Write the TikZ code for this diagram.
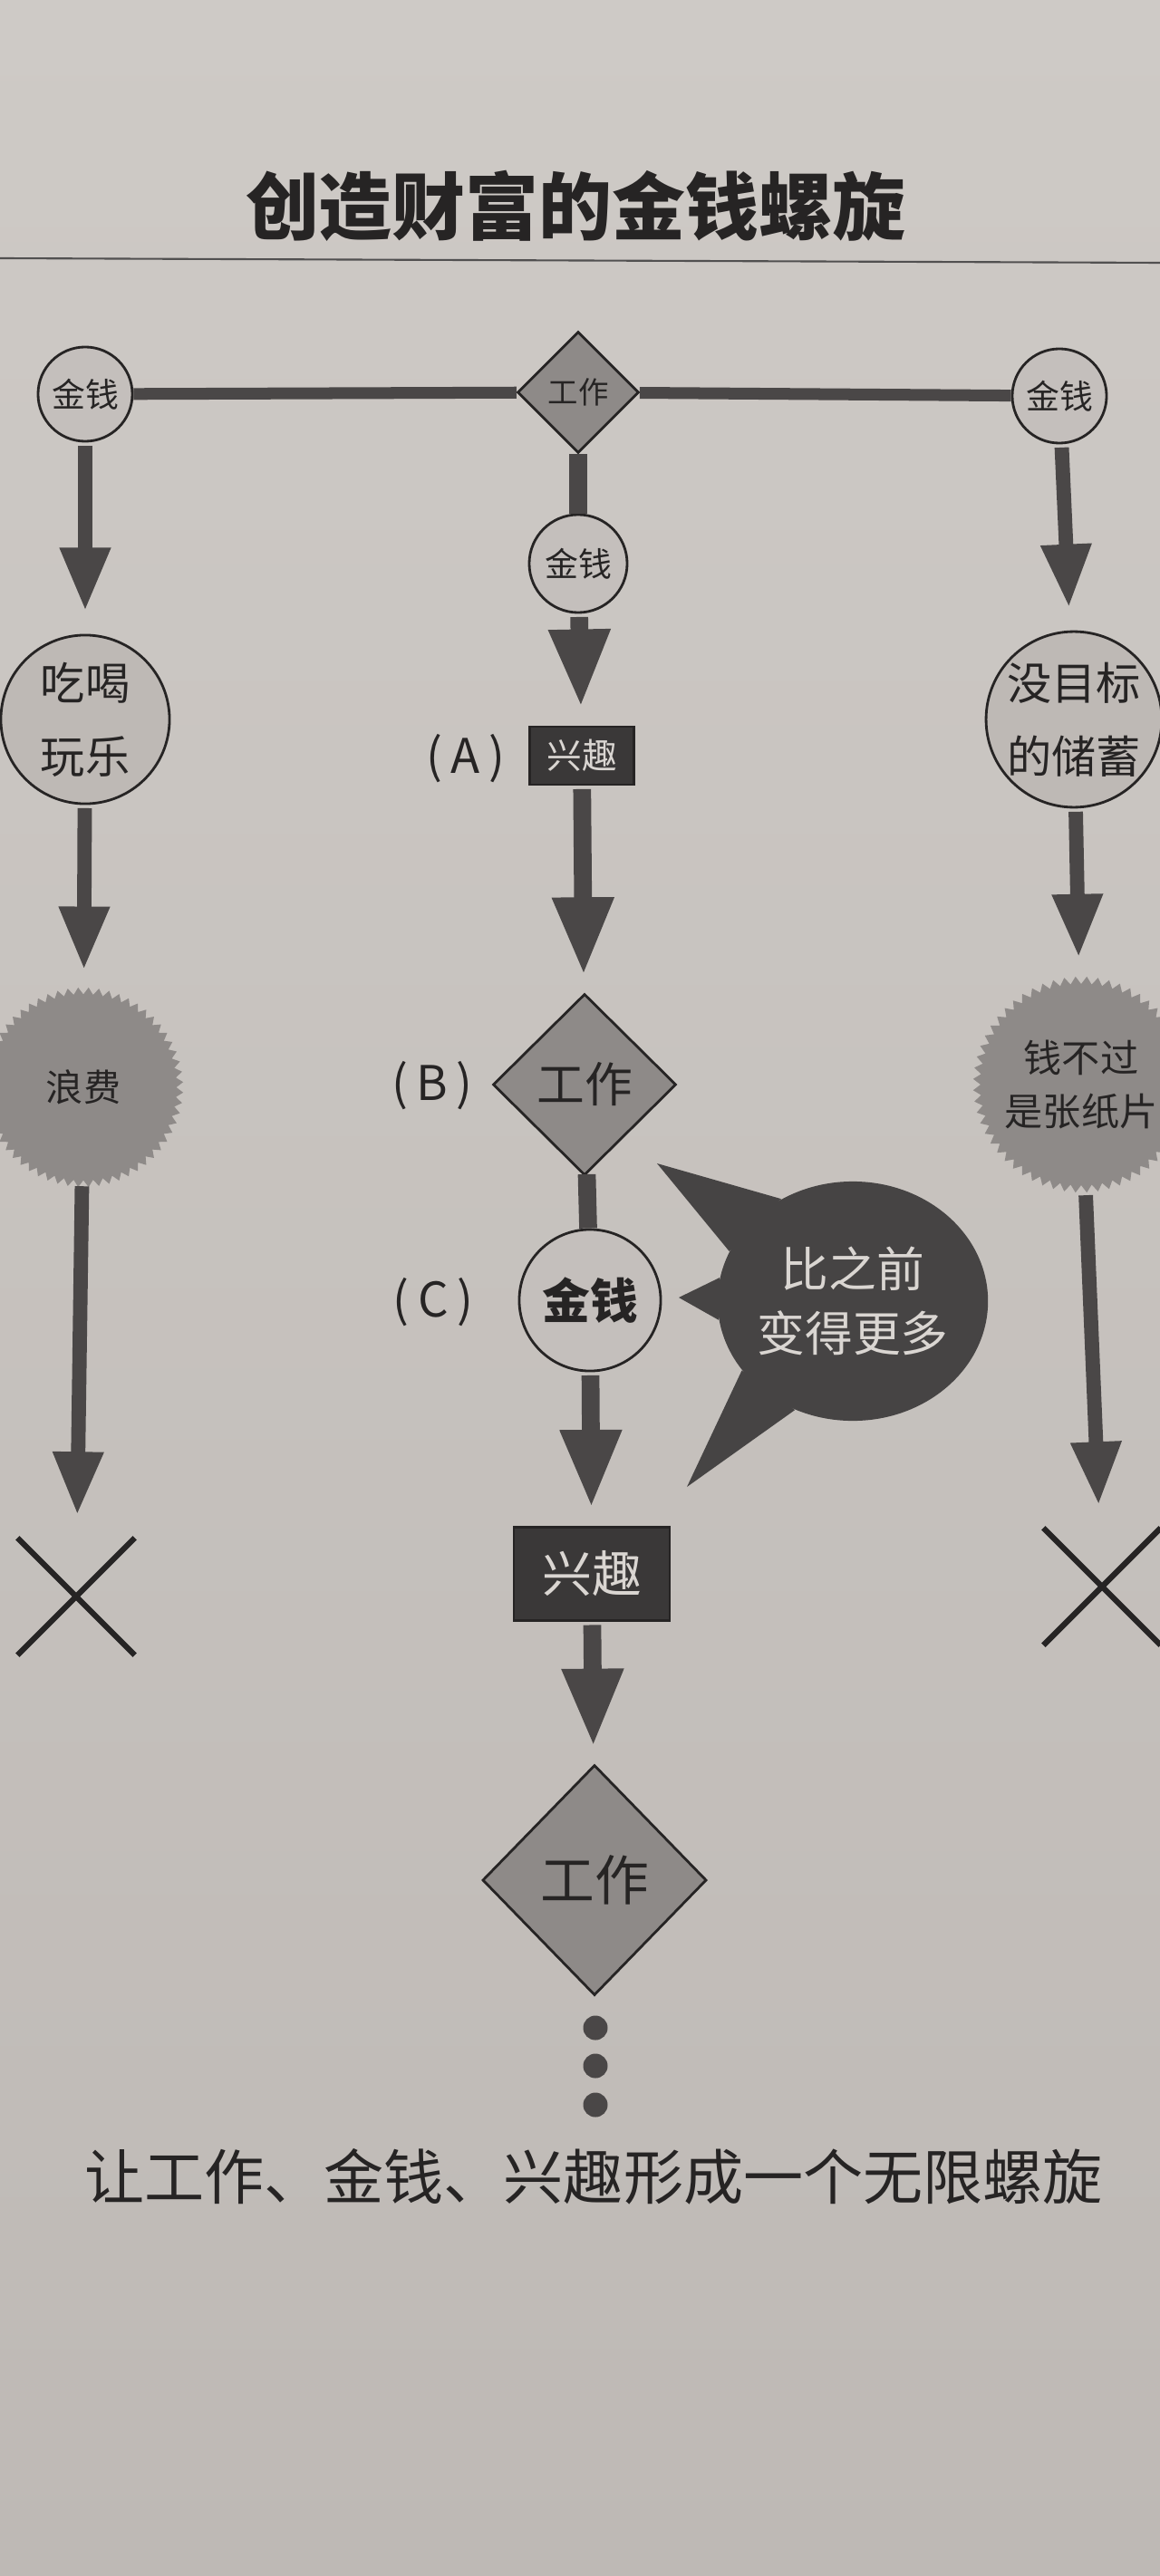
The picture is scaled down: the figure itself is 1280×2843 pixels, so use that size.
\documentclass[tikz,border=0pt]{standalone}
\usepackage{fontspec}
\setmainfont{Noto Sans CJK SC}
\usepackage{xcolor}
\usetikzlibrary{
    arrows.meta,
    positioning,
    shapes.geometric,
    shapes.misc
}

\definecolor{paperTop}{RGB}{206,202,198}
\definecolor{paperMid}{RGB}{180,174,170}
\definecolor{paperBot}{RGB}{190,185,181}
\definecolor{ink}{RGB}{38,36,36}
\definecolor{arrowgray}{RGB}{74,71,71}
\definecolor{lightfill}{RGB}{196,191,188}
\definecolor{midfill}{RGB}{142,138,136}
\definecolor{darkfill}{RGB}{58,56,56}
\definecolor{bubblegray}{RGB}{70,68,68}
\definecolor{lighttext}{RGB}{218,214,210}

\begin{document}
\begin{tikzpicture}[
    x=0.01cm, y=-0.01cm,
    font=\fontsize{12}{16}\selectfont,
    money/.style={
        circle,
        draw=ink,
        thick,
        fill=lightfill,
        minimum size=1.04cm,
        inner sep=0pt,
        text=ink,
        font=\fontsize{10.5}{12}\selectfont
    },
    spend/.style={
        circle,
        draw=ink,
        thick,
        fill=paperMid!60!paperTop,
        minimum size=1.86cm,
        inner sep=0pt,
        align=center,
        text=ink,
        font=\fontsize{14}{23}\selectfont
    },
    work/.style={
        diamond,
        draw=ink,
        thick,
        fill=midfill,
        inner sep=0pt,
        text=ink
    },
    interest/.style={
        rectangle,
        draw=ink,
        thick,
        fill=darkfill,
        inner sep=0pt,
        text=lighttext
    },
    burst/.style={
        star,
        star points=60,
        star point ratio=0.93,
        fill=midfill,
        minimum size=2.05cm,
        inner sep=0pt,
        align=center,
        text=ink
    },
    cross/.style={
        cross out,
        draw=ink,
        line width=1.8pt,
        minimum size=1.23cm,
        inner sep=0pt
    },
    tag/.style={
        text=ink,
        font=\fontsize{15}{17}\selectfont
    },
    dotmark/.style={
        circle,
        fill=arrowgray,
        minimum size=0.27cm,
        inner sep=0pt
    },
    arrow/.style={
        -{Triangle[length=0.86cm,width=0.63cm]},
        line width=5.6pt,
        draw=arrowgray,
        shorten <=1pt,
        shorten >=0.2cm
    },
    sidearrow/.style={
        -{Triangle[length=0.7cm,width=0.52cm]},
        line width=4.5pt,
        draw=arrowgray,
        shorten <=1pt,
        shorten >=0.25cm
    },
    link/.style={
        line width=3.7pt,
        draw=arrowgray
    }
]

% =========================================================
% Page and headings
% =========================================================
\useasboundingbox (0,0) rectangle (1280,2843);
\shade[top color=paperTop, middle color=paperMid, bottom color=paperBot] (0,0) rectangle (1280,2843);

\node[text=ink, font=\fontsize{23}{26}\selectfont\bfseries] (title) at (635,227) {创造财富的金钱螺旋};
\draw[ink!80, line width=0.6pt] (0,285) -- (1280,290);

\node[text=ink, font=\fontsize{18.8}{22}\selectfont] (motto) at (655,2402) {让工作、金钱、兴趣形成一个无限螺旋};

% =========================================================
% Top row
% =========================================================
\node[money] (mLeft) at (94,435) {金钱};
\node[work, minimum width=1.34cm, minimum height=1.34cm, font=\fontsize{9.5}{11}\selectfont] (wTop) at (638,433) {工作};
\node[money] (mRight) at (1169,437) {金钱};

\draw[link] (mLeft) -- (wTop);
\draw[link] (wTop) -- (mRight);

% =========================================================
% Left branch
% =========================================================
\node[spend] (fun) at (94,794) {吃喝\\玩乐};
\node[burst, font=\fontsize{11.7}{14}\selectfont] (waste) at (92,1200) {浪费};
\node[cross] (crossL) at (84,1762) {};

\draw[sidearrow] (mLeft) -- (fun);
\draw[sidearrow] (fun) -- (waste);
\draw[sidearrow] (waste) -- (crossL);

% =========================================================
% Right branch
% =========================================================
\node[spend] (save) at (1185,794) {没目标\\的储蓄};
\node[burst, font=\fontsize{12}{17}\selectfont] (paper) at (1193,1197) {钱不过\\是张纸片};
\node[cross] (crossR) at (1216,1751) {};

\draw[sidearrow] (mRight) -- (save);
\draw[sidearrow] (save) -- (paper);
\draw[sidearrow] (paper) -- (crossR);

% =========================================================
% Spiral (centre)
% =========================================================
\node[money, minimum size=1.08cm] (mCenter) at (638,622) {金钱};
\node[interest, minimum width=1.15cm, minimum height=0.64cm, font=\fontsize{11}{12}\selectfont] (intA) at (642,834) {兴趣};
\node[work, minimum width=2.02cm, minimum height=2.0cm, font=\fontsize{15}{17}\selectfont] (workB) at (645,1197) {工作};
\node[money, minimum size=1.56cm, font=\fontsize{15}{17}\selectfont\bfseries] (moneyC) at (651,1435) {金钱};
\node[interest, minimum width=1.72cm, minimum height=1.03cm, font=\fontsize{15.6}{17}\selectfont] (intD) at (653,1737) {兴趣};
\node[work, minimum width=2.47cm, minimum height=2.54cm, font=\fontsize{17}{19}\selectfont] (workE) at (656,2075) {工作};

\node[tag] (labA) at (514,837) {(\hspace{0.18em}A\hspace{0.18em})};
\node[tag] (labB) at (477,1198) {(\hspace{0.18em}B\hspace{0.18em})};
\node[tag] (labC) at (478,1437) {(\hspace{0.18em}C\hspace{0.18em})};

\draw[link, line width=5.6pt] (wTop) -- (mCenter);
\draw[arrow] (mCenter) -- (intA);
\draw[arrow] (intA) -- (workB);
\draw[link, line width=5.6pt] (workB) -- (moneyC);
\draw[arrow] (moneyC) -- (intD);
\draw[arrow] (intD) -- (workE);

\node[dotmark] (dot1) at (657,2238) {};
\node[dotmark] (dot2) at (657,2280) {};
\node[dotmark] (dot3) at (657,2323) {};

% =========================================================
% Speech bubble
% =========================================================
\coordinate (tipUp) at (725,1284);
\coordinate (tipMid) at (749,1432);
\coordinate (tipLow) at (758,1641);

\node[ellipse, fill=bubblegray, minimum width=2.5cm, minimum height=2.64cm, inner sep=0pt,
      align=center, text=lighttext, font=\fontsize{15}{20}\selectfont] (bubble) at (941,1436) {比之前\\变得更多};

\fill[bubblegray] (bubble.125) -- (tipUp) -- (bubble.158) -- cycle;
\fill[bubblegray] (bubble.170) -- (tipMid) -- (bubble.188) -- cycle;
\fill[bubblegray] (bubble.212) -- (tipLow) -- (bubble.242) -- cycle;

\end{tikzpicture}
\end{document}
